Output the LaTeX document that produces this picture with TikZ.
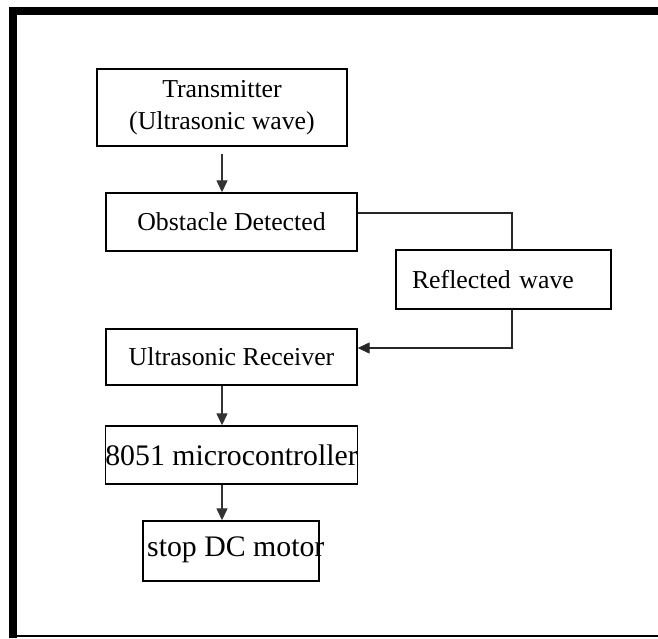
\documentclass[tikz,border=0pt]{standalone}
\usepackage{fontspec}
\setmainfont{Liberation Serif}
\usetikzlibrary{arrows.meta}
\begin{document}
\begin{tikzpicture}[x=1pt,y=-1pt,
  box/.style={draw=black, line width=1.4pt, inner sep=0pt, align=center,
    font=\fontsize{25.8}{32}\selectfont},
  bigbox/.style={box, font=\fontsize{29.8}{34}\selectfont},
  arr/.style={line width=1.3pt, draw=black!80, -{Triangle[length=12pt,width=11pt]}},
  conn/.style={line width=1.4pt, draw=black!85}]
\useasboundingbox (0,0) rectangle (658,638);
% frame
\fill[black] (9,7) rectangle (658,15);
\fill[black] (9,7) rectangle (17,638);
\draw[line width=2pt] (17,636) -- (658,636);
% nodes
\node[box, minimum width=250pt, minimum height=77pt] (trans) at (222,107.5) {Transmitter\\(Ultrasonic wave)};
\node[box, minimum width=251pt, minimum height=58pt] (obst) at (231.5,222) {Obstacle Detected};
\node[box, minimum width=215pt, minimum height=59pt, text width=183pt, inner xsep=16pt, align=left] (refl) at (503.5,279.5) {Reflected wave};
\node[box, minimum width=251pt, minimum height=56pt] (recv) at (231.5,357) {Ultrasonic Receiver};
\node[bigbox, minimum width=251pt, minimum height=58pt] (mcu) at (231.5,455) {8051 microcontroller};
\node[box, minimum width=176pt, minimum height=60pt] (stop) at (231,551) {};
\node[inner sep=0pt, anchor=west, font=\fontsize{29.8}{34}\selectfont] (stoptext) at (147,550) {stop DC motor};
% connectors
\draw[arr] ([yshift=-7pt]trans.south) -- (trans.south |- obst.north);
\draw[conn] ([yshift=9pt]obst.east) -| ([xshift=8.5pt]refl.north);
\draw[arr, draw=black!85] ([xshift=8.5pt]refl.south) |- ([yshift=9pt]recv.east);
\draw[arr] ([xshift=-9.5pt]recv.south) -- ([xshift=-9.5pt]mcu.north);
\draw[arr] ([xshift=-9.5pt]mcu.south) -- ([xshift=-9pt]stop.north);
\end{tikzpicture}
\end{document}
